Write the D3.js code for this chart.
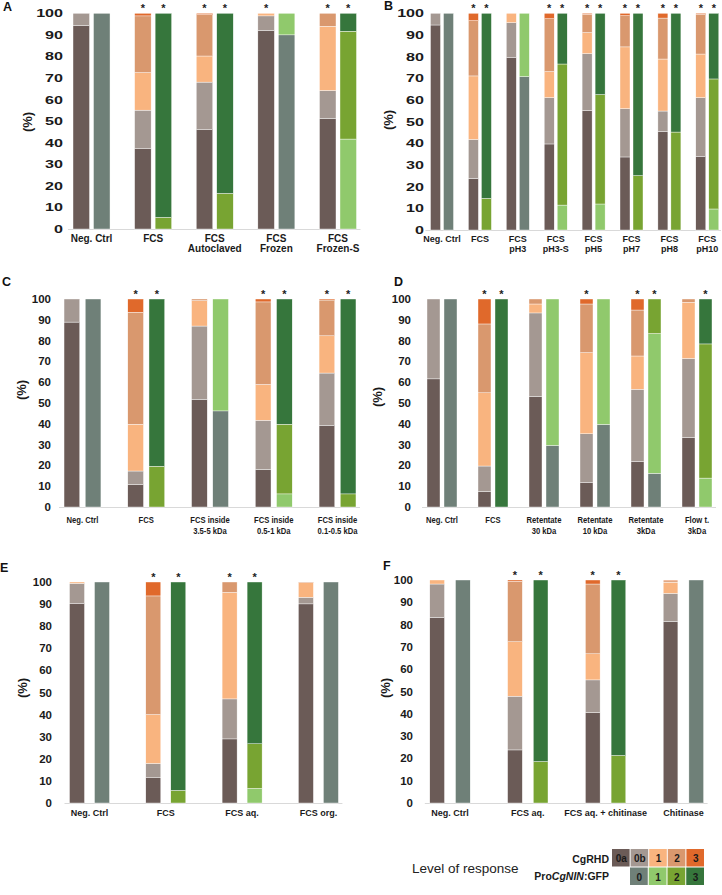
<!DOCTYPE html>
<html><head><meta charset="utf-8">
<script src="https://cdn.jsdelivr.net/npm/d3@7"></script>
<style>body{margin:0;background:#fff}svg{display:block}</style>
</head><body>
<script>
// ---------- DATA ----------
const rhdLevels = ["0a","0b","1","2","3"];
const gfpLevels = ["0","1","2","3"];

const catsA = ["Neg. Ctrl","FCS","FCS\nAutoclaved","FCS\nFrozen","FCS\nFrozen-S"];
const rhdA = [[94.4,5.6,0,0,0],[37.2,17.9,17.4,26.3,1.2],[46.0,22.1,12.1,19.2,0.6],[92.0,6.8,1.2,0,0],[51.2,13.0,29.8,6.0,0]];
const gfpA = [[100,0,0,0],[0,0,5.4,94.6],[0,0,16.5,83.5],[90.0,10.0,0,0],[0,41.7,50.0,8.3]];
const starsA = [[0,0],[1,1],[1,1],[1,0],[1,1]];

const catsB = ["Neg. Ctrl","FCS","FCS\npH3","FCS\npH3-S","FCS\npH5","FCS\npH7","FCS\npH8","FCS\npH10"];
const rhdB = [[94.6,5.4,0,0,0],[23.8,18.0,29.3,25.5,3.4],[79.5,16.2,4.3,0,0],[39.7,21.4,12.0,24.4,2.5],[55.1,26.3,9.7,8.4,0.5],[33.7,22.3,28.5,14.4,1.1],[45.5,9.4,24.0,18.9,2.2],[34.0,27.1,20.1,18.3,0.5]];
const gfpB = [[100,0,0,0],[0,0,14.6,85.4],[70.8,29.2,0,0],[0,11.5,65.1,23.4],[0,12.0,50.5,37.5],[0,0,25.1,74.9],[0,0,45.2,54.8],[0,9.7,60.0,30.3]];
const starsB = [[0,0],[1,1],[0,0],[1,1],[1,1],[1,1],[1,1],[1,1]];

const catsC = ["Neg. Ctrl","FCS","FCS inside\n3.5-5 kDa","FCS inside\n0.5-1 kDa","FCS inside\n0.1-0.5 kDa"];
const rhdC = [[88.9,11.1,0,0,0],[10.8,6.5,22.5,53.8,6.4],[51.8,35.2,12.2,0.8,0],[18.0,23.7,17.2,39.7,1.4],[39.3,25.1,17.9,17.2,0.5]];
const gfpC = [[100,0,0,0],[0,0,19.6,80.4],[46.2,53.8,0,0],[0,6.3,33.5,60.2],[0,0,6.3,93.7]];
const starsC = [[0,0],[1,1],[0,0],[1,1],[1,1]];

const catsD = ["Neg. Ctrl","FCS","Retentate\n30 kDa","Retentate\n10 kDa","Retentate\n3kDa","Flow t.\n3kDa"];
const rhdD = [[61.6,38.4,0,0,0],[7.5,12.2,35.2,33.1,12.0],[53.1,40.2,4.3,2.4,0],[11.7,23.5,39.0,23.4,2.4],[21.8,34.8,16.0,22.1,5.3],[33.4,38.0,27.0,1.6,0]];
const gfpD = [[100,0,0,0],[0,0,0,100],[29.6,70.4,0,0],[39.7,60.3,0,0],[16.2,67.2,16.6,0],[0,13.9,64.5,21.6]];
const starsD = [[0,0],[1,1],[0,0],[1,0],[1,1],[0,1]];

const catsE = ["Neg. Ctrl","FCS","FCS aq.","FCS org."];
const rhdE = [[90.4,9.0,0.6,0,0],[11.4,6.5,22.1,53.7,6.3],[29.0,18.1,48.2,4.7,0],[90.1,3.0,6.6,0.3,0]];
const gfpE = [[100,0,0,0],[0,0,5.7,94.3],[0,6.6,20.2,73.2],[100,0,0,0]];
const starsE = [[0,0],[1,1],[1,1],[0,0]];

const catsF = ["Neg. Ctrl","FCS aq.","FCS aq. + chitinase","Chitinase"];
const rhdF = [[83.2,15.0,1.8,0,0],[23.8,24.1,24.4,27.1,0.6],[40.6,14.6,11.7,31.3,1.8],[81.4,12.6,5.0,0.6,0.4]];
const gfpF = [[100,0,0,0],[0,0,18.6,81.4],[0,0,21.3,78.7],[100,0,0,0]];
const starsF = [[0,0],[1,1],[1,1],[0,0]];

const yTicks = [0,10,20,30,40,50,60,70,80,90,100];

// ---------- STYLE ----------
const rhdColors = ["#6b5b57","#a49892","#f9b47f","#d9986e","#e0692b"];
const gfpColors = ["#6f8078","#90c96c","#78a432","#36763c"];
const FONT = "'Liberation Sans', Arial, sans-serif";

// layout of each panel (positions only)
const panels = [
  {letter:"A", lx:3, ly:11, cats:catsA, rhd:rhdA, gfp:gfpA, stars:starsA, xr:[60.7,368.8], bw:16.5, gap:4, yr:[229,13.3], tickX:63, tickSx:1.4, pctX:28, pctY:122, labY:242, labLH:10.3, labFs:10, labSx:1},
  {letter:"B", lx:384, ly:10, cats:catsB, rhd:rhdB, gfp:gfpB, stars:starsB, xr:[423.05,726.25], bw:10, gap:3, yr:[230,13.3], tickX:424, tickSx:1.4, pctX:389, pctY:120, labY:242, labLH:10.3, labFs:9, labSx:1},
  {letter:"C", lx:2, ly:286, cats:catsC, rhd:rhdC, gfp:gfpC, stars:starsC, xr:[50.6,369.4], bw:15.7, gap:5.5, yr:[507,299], tickX:51, tickSx:1, pctX:22, pctY:390, labY:523, labLH:11, labFs:9, labSx:0.85},
  {letter:"D", lx:394, ly:286, cats:catsD, rhd:rhdD, gfp:gfpD, stars:starsD, xr:[416.5,722.5], bw:13, gap:4, yr:[507,299], tickX:411, tickSx:1, pctX:378, pctY:397, labY:523, labLH:11, labFs:9, labSx:0.85},
  {letter:"E", lx:0, ly:572, cats:catsE, rhd:rhdE, gfp:gfpE, stars:starsE, xr:[51.35,356.55], bw:15, gap:10, yr:[803,582], tickX:52, tickSx:1, pctX:23, pctY:688, labY:816, labLH:10, labFs:9, labSx:1},
  {letter:"F", lx:383, ly:570, cats:catsF, rhd:rhdF, gfp:gfpF, stars:starsF, xr:[411.1,722.3], bw:14.7, gap:11, yr:[803,580], tickX:413, tickSx:1, pctX:386, pctY:688, labY:816, labLH:10, labFs:9, labSx:1}
];

const svg = d3.select("body").append("svg").attr("width",722).attr("height",895)
  .style("font-family", FONT);

function stackOf(vals){ let acc=0; return vals.map(v=>{const s=[acc,acc+v]; acc+=v; return s;}); }

panels.forEach(p=>{
  const g = svg.append("g");
  const x = d3.scaleBand().domain(p.cats).range(p.xr).paddingInner(0).paddingOuter(0);
  const y = d3.scaleLinear().domain([0,100]).range(p.yr);
  const cx = c => x(c) + x.bandwidth()/2;
  const sub = d3.scaleOrdinal().domain(["rhd","gfp"]).range([-p.gap/2 - p.bw, p.gap/2]);

  // baseline
  const firstL = cx(p.cats[0]) + sub("rhd") - 5;
  const lastR = Math.min(cx(p.cats[p.cats.length-1]) + sub("gfp") + p.bw + 4, 721);
  g.append("line").attr("x1",firstL).attr("x2",lastR).attr("y1",y(0)+0.5).attr("y2",y(0)+0.5)
    .attr("stroke","#d9d9d9").attr("stroke-width",1);

  // y tick labels
  g.selectAll(".yt").data(yTicks).join("text")
    .attr("transform", d=>`translate(${p.tickX},${y(d)+4}) scale(${p.tickSx},1)`)
    .attr("text-anchor","end").attr("font-size",11.5).attr("font-weight","bold").attr("fill","#1a1a1a")
    .text(d=>d);

  // (%) label
  g.append("text").attr("transform",`translate(${p.pctX+4},${p.pctY}) rotate(-90)`)
    .attr("text-anchor","middle").attr("font-size",13).attr("font-weight","bold").attr("fill","#1a1a1a").text("(%)");

  // panel letter
  g.append("text").attr("x",p.lx).attr("y",p.ly).attr("font-size",12.5).attr("font-weight","bold").attr("fill","#111").text(p.letter);

  p.cats.forEach((c,i)=>{
    const rs = stackOf(p.rhd[i]);
    g.selectAll(null).data(rs.map((s,k)=>({s,k})).filter(d=>d.s[1]>d.s[0])).join("rect")
      .attr("x", cx(c)+sub("rhd")).attr("width",p.bw)
      .attr("y", d=>y(d.s[1])).attr("height", d=>y(d.s[0])-y(d.s[1]))
      .attr("fill", d=>rhdColors[d.k]).attr("stroke","#fff").attr("stroke-width",0.4);
    const gs = stackOf(p.gfp[i]);
    g.selectAll(null).data(gs.map((s,k)=>({s,k})).filter(d=>d.s[1]>d.s[0])).join("rect")
      .attr("x", cx(c)+sub("gfp")).attr("width",p.bw)
      .attr("y", d=>y(d.s[1])).attr("height", d=>y(d.s[0])-y(d.s[1]))
      .attr("fill", d=>gfpColors[d.k]).attr("stroke","#fff").attr("stroke-width",0.4);
    ["rhd","gfp"].forEach((s,j)=>{
      if(p.stars[i][j]){
        g.append("text").attr("x", cx(c)+sub(s)+p.bw/2).attr("y", y(100)-1.5)
          .attr("text-anchor","middle").attr("font-size",11).attr("font-weight","bold").attr("fill","#222").text("*");
      }
    });
    const lines = c.split("\n");
    lines.forEach((ln,li)=>{
      g.append("text").attr("transform",`translate(${cx(c)},${p.labY + li*p.labLH}) scale(${p.labSx},1)`)
        .attr("text-anchor","middle").attr("font-size",p.labFs).attr("font-weight","bold").attr("fill","#1a1a1a").text(ln);
    });
  });
});

// ---------- LEGEND ----------
const lg = svg.append("g");
lg.append("text").attr("x",412).attr("y",873).attr("font-size",13.5).attr("fill","#222").text("Level of response");
lg.append("text").attr("x",609).attr("y",863).attr("text-anchor","end").attr("font-size",10.5).attr("font-weight","bold").attr("fill","#1a1a1a").text("CgRHD");
const t2 = lg.append("text").attr("x",609).attr("y",880).attr("text-anchor","end").attr("font-size",10.5).attr("font-weight","bold").attr("fill","#1a1a1a");
t2.append("tspan").text("Pro");
t2.append("tspan").attr("font-style","italic").text("CgNIN");
t2.append("tspan").text(":GFP");
const lx = d3.scaleBand().domain(rhdLevels).range([612,705]);
lg.selectAll(".lr").data(rhdLevels).join("g").each(function(d,i){
  const gg = d3.select(this);
  gg.append("rect").attr("x",lx(d)).attr("y",849).attr("width",lx.bandwidth()-1).attr("height",17.5).attr("fill",rhdColors[i]);
  gg.append("text").attr("x",lx(d)+lx.bandwidth()/2).attr("y",862).attr("text-anchor","middle").attr("font-size",10).attr("font-weight","bold").attr("fill","#1a1a1a").text(d);
});
const lx2 = d3.scaleBand().domain(gfpLevels).range([630,705]);
lg.selectAll(".lg").data(gfpLevels).join("g").each(function(d,i){
  const gg = d3.select(this);
  gg.append("rect").attr("x",lx2(d)).attr("y",867.5).attr("width",lx2.bandwidth()-1).attr("height",17.5).attr("fill",gfpColors[i]);
  gg.append("text").attr("x",lx2(d)+lx2.bandwidth()/2).attr("y",880.5).attr("text-anchor","middle").attr("font-size",10).attr("font-weight","bold").attr("fill","#1a1a1a").text(d);
});
</script>
</body></html>
